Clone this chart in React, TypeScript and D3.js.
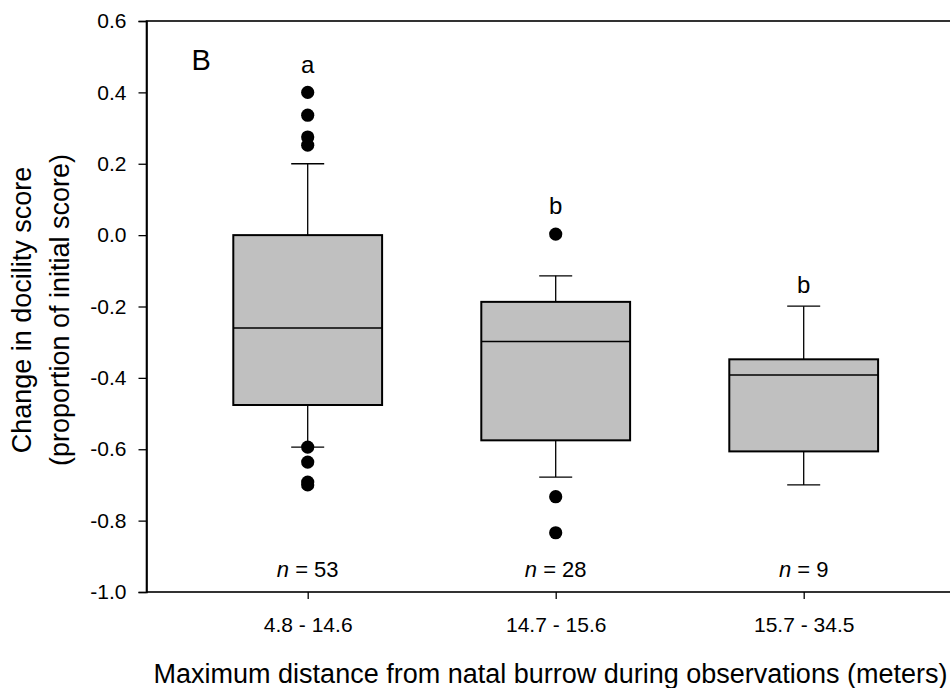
import React, { useEffect, useRef } from 'react';
import * as d3 from 'd3';

const categories = ['4.8 - 14.6', '14.7 - 15.6', '15.7 - 34.5'];
const q1 = [-0.476, -0.575, -0.606];
const medians = [-0.26, -0.298, -0.392];
const q3 = [0.0, -0.187, -0.348];
const whiskerLow = [-0.594, -0.678, -0.7];
const whiskerHigh = [0.2, -0.114, -0.199];
const outliers = [
  [0.4, 0.336, 0.275, 0.252, -0.594, -0.636, -0.692, -0.7],
  [0.003, -0.733, -0.834],
  [],
];
const counts = [53, 28, 9];
const letters = ['a', 'b', 'b'];
const yTicks = [-1.0, -0.8, -0.6, -0.4, -0.2, 0.0, 0.2, 0.4, 0.6];

const FONT = '"Liberation Sans", Arial, sans-serif';

export default function App() {
  const node = useRef<SVGSVGElement | null>(null);

  useEffect(() => {
    const svg = d3.select(node.current);
    svg.selectAll('*').remove();

    const margin = { left: 146.5, top: 21 };
    const height = 592 - margin.top;
    const step = 248;

    const x = d3
      .scaleLinear()
      .domain([0.35, 3.65])
      .range([margin.left, margin.left + 3.3 * step]);
    const y = d3
      .scaleLinear()
      .domain([-1.0, 0.6])
      .range([margin.top + height, margin.top]);

    const g = svg.append('g').style('font-family', FONT);

    // frame (right edge falls outside the picture)
    g.append('rect')
      .attr('x', x(0.35))
      .attr('y', y(0.6))
      .attr('width', x(3.65) - x(0.35))
      .attr('height', y(-1.0) - y(0.6))
      .attr('fill', 'none')
      .attr('stroke', '#000')
      .attr('stroke-width', 1.6);

    // y axis
    const yAxis = g
      .append('g')
      .attr('transform', `translate(${x(0.35)},0)`)
      .call(
        d3
          .axisLeft(y)
          .tickValues(yTicks)
          .tickSize(8)
          .tickPadding(12)
          .tickFormat((d) => Number(d).toFixed(1))
      );
    yAxis.select('.domain').attr('stroke-width', 1.6);
    yAxis.selectAll('.tick line').attr('stroke-width', 1.3);
    yAxis
      .selectAll('.tick text')
      .style('font-size', '21px')
      .style('font-family', FONT)
      .attr('fill', '#000');

    // x axis
    const xAxis = g
      .append('g')
      .attr('transform', `translate(0,${y(-1.0)})`)
      .call(
        d3
          .axisBottom(x)
          .tickValues([1, 2, 3])
          .tickSize(7)
          .tickPadding(18)
          .tickFormat((d) => categories[Number(d) - 1])
      );
    xAxis.select('.domain').remove();
    xAxis.selectAll('.tick line').attr('stroke-width', 1.3);
    xAxis
      .selectAll('.tick text')
      .style('font-size', '21px')
      .style('font-family', FONT)
      .attr('fill', '#000');

    const boxW = 0.6;
    const capW = 16.5;
    const r = 6.6;

    categories.forEach((c, i) => {
      const cx = x(i + 1);
      const bx = x(i + 1 - boxW / 2);
      const bw = x(i + 1 + boxW / 2) - bx;
      const box = g.append('g');

      // whiskers
      box.append('line')
        .attr('x1', cx).attr('x2', cx)
        .attr('y1', y(q3[i])).attr('y2', y(whiskerHigh[i]))
        .attr('stroke', '#000').attr('stroke-width', 1.3);
      box.append('line')
        .attr('x1', cx).attr('x2', cx)
        .attr('y1', y(q1[i])).attr('y2', y(whiskerLow[i]))
        .attr('stroke', '#000').attr('stroke-width', 1.3);
      [whiskerHigh[i], whiskerLow[i]].forEach((v) => {
        box.append('line')
          .attr('x1', cx - capW).attr('x2', cx + capW)
          .attr('y1', y(v)).attr('y2', y(v))
          .attr('stroke', '#000').attr('stroke-width', 1.3);
      });

      box.append('rect')
        .attr('x', bx)
        .attr('y', y(q3[i]))
        .attr('width', bw)
        .attr('height', y(q1[i]) - y(q3[i]))
        .attr('fill', '#c0c0c0')
        .attr('stroke', '#000')
        .attr('stroke-width', 2);
      box.append('line')
        .attr('x1', bx).attr('x2', bx + bw)
        .attr('y1', y(medians[i])).attr('y2', y(medians[i]))
        .attr('stroke', '#000').attr('stroke-width', 1.5);

      box.selectAll('circle')
        .data(outliers[i])
        .enter()
        .append('circle')
        .attr('cx', cx)
        .attr('cy', (d) => y(d))
        .attr('r', r)
        .attr('fill', '#000');

      // significance letter above the highest mark
      const top = Math.max(whiskerHigh[i], ...outliers[i]);
      const off = top > whiskerHigh[i] ? r + 13 : 13;
      g.append('text')
        .attr('x', cx)
        .attr('y', y(top) - off)
        .attr('text-anchor', 'middle')
        .style('font-size', '24px')
        .text(letters[i]);

      const nt = g.append('text')
        .attr('x', cx)
        .attr('y', y(-1.0) - 15)
        .attr('text-anchor', 'middle')
        .style('font-size', '22px');
      nt.append('tspan').style('font-style', 'italic').text('n');
      nt.append('tspan').text(` = ${counts[i]}`);
    });

    g.append('text')
      .attr('x', 191.5)
      .attr('y', 69.5)
      .style('font-size', '29px')
      .text('B');

    g.append('text')
      .attr('x', 550.5)
      .attr('y', 683)
      .attr('text-anchor', 'middle')
      .style('font-size', '27px')
      .text('Maximum distance from natal burrow during observations (meters)');

    const yt = g.append('text')
      .attr('transform', 'translate(0,310) rotate(-90)')
      .attr('text-anchor', 'middle')
      .style('font-size', '27px');
    yt.append('tspan').attr('x', 0).attr('y', 31).text('Change in docility score');
    yt.append('tspan').attr('x', 0).attr('y', 69).text('(proportion of initial score)');
  }, []);

  return (
    <svg
      ref={node}
      width={950}
      height={688}
      style={{ position: 'absolute', left: 0, top: 0, background: '#fff' }}
    />
  );
}
